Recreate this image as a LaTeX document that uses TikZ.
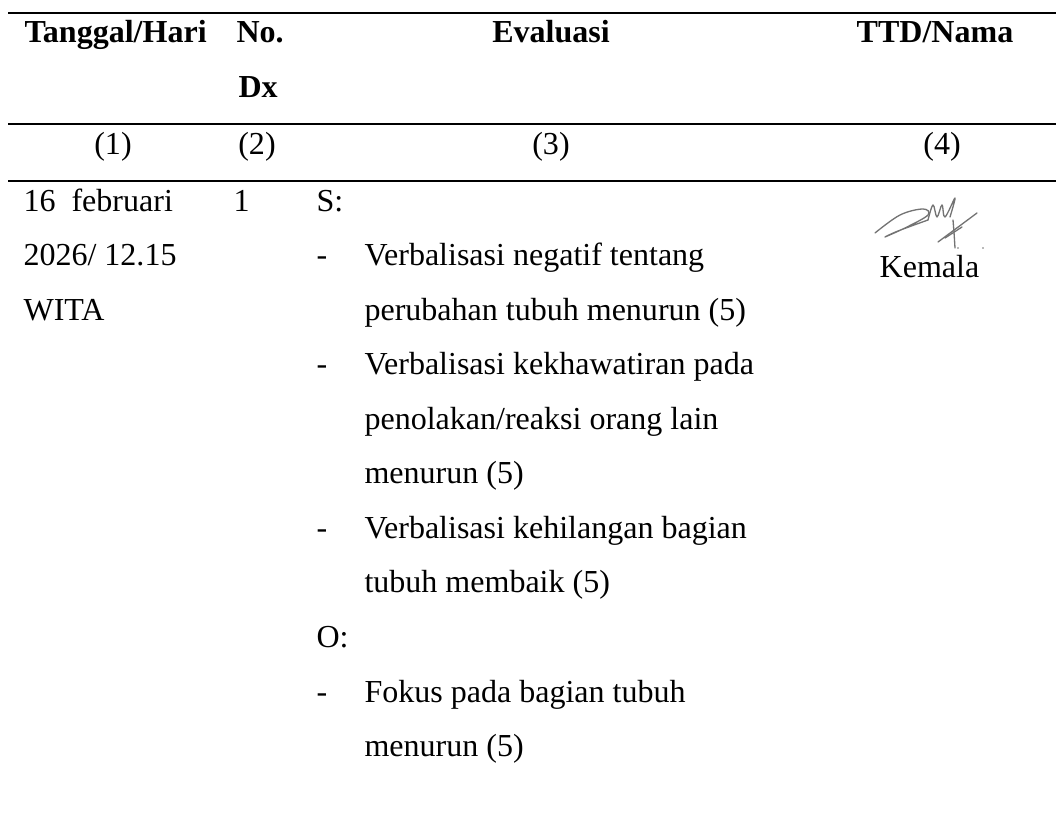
\documentclass[tikz,border=0pt]{standalone}
\usepackage{fontspec}
\setmainfont{Liberation Serif}

\begin{document}
\begin{tikzpicture}[x=0.381pt, y=-0.381pt,
	txt/.style = {anchor=base west, inner sep=0pt, font=\fontsize{12.2}{14}\selectfont},
	hd/.style  = {txt, font=\fontsize{12.2}{14}\selectfont\bfseries},
	num/.style = {txt, anchor=base},
	rule/.style = {draw=black, line width=0.76pt},
	sig/.style = {draw=black!55, line width=0.5pt, line cap=round, line join=round}]
	\useasboundingbox (0,0) rectangle (1056,837);
	% rules
	\draw[rule] (8, 12.7) -- (1056, 12.7);
	\draw[rule] (8, 124)  -- (1056, 124);
	\draw[rule] (8, 181)  -- (1056, 181);
	% header
	\node (hdTgl)  at (24, 43)   [hd]	{Tanggal/Hari};
	\node (hdNo)   at (236, 43)  [hd]	{No.};
	\node (hdDx)   at (238, 98)  [hd]	{Dx};
	\node (hdEval) at (551, 43)  [hd, anchor=base]	{Evaluasi};
	\node (hdTtd)  at (935, 43)  [hd, anchor=base]	{TTD/Nama};
	\node (n1) at (113, 155) [num]	{(1)};
	\node (n2) at (257, 155) [num]	{(2)};
	\node (n3) at (551, 155) [num]	{(3)};
	\node (n4) at (942, 155) [num]	{(4)};
	% tanggal, no. dx
	\node (tgl1) at (23, 211.5)  [txt]	{16\ \ februari};
	\node (tgl2) at (23, 266)    [txt]	{2026/ 12.15};
	\node (tgl3) at (23, 320.5)  [txt]	{WITA};
	\node (dx1)  at (233, 211.5) [txt]	{1};
	% evaluasi
	\node (sLbl) at (316, 211.5) [txt]	{S:};
	\node (d1)   at (316, 266)   [txt]	{-};
	\node (e1a)  at (364, 266)   [txt]	{Verbalisasi negatif tentang};
	\node (e1b)  at (364, 320.5) [txt]	{perubahan tubuh menurun (5)};
	\node (d2)   at (316, 375)   [txt]	{-};
	\node (e2a)  at (364, 375)   [txt]	{Verbalisasi kekhawatiran pada};
	\node (e2b)  at (364, 429.5) [txt]	{penolakan/reaksi orang lain};
	\node (e2c)  at (364, 484)   [txt]	{menurun (5)};
	\node (d3)   at (316, 538.5) [txt]	{-};
	\node (e3a)  at (364, 538.5) [txt]	{Verbalisasi kehilangan bagian};
	\node (e3b)  at (364, 593)   [txt]	{tubuh membaik (5)};
	\node (oLbl) at (316, 647.5) [txt]	{O:};
	\node (d4)   at (316, 702)   [txt]	{-};
	\node (e4a)  at (364, 702)   [txt]	{Fokus pada bagian tubuh};
	\node (e4b)  at (364, 756.5) [txt]	{menurun (5)};
	% ttd
	\node (nama) at (929.5, 278) [num]	{Kemala};
	\draw[sig] plot[smooth, tension=0.6] coordinates {(875,233) (900,215) (923,209) (928,215) (907,227) (885,237) (898,231) (928,220)};
	\draw[sig] plot[smooth, tension=0.6] coordinates {(928,220) (933,205) (937,217) (942,205) (945,217) (955,198) (950,217)};
	\draw[sig] (938,242) -- (977,213);
	\draw[sig] (945,238) -- (962,227);
	\draw[sig] (953,220) .. controls (954,232) .. (955,248);
	\fill[black!55] (958,248) circle (0.9) (983,248) circle (0.9);
\end{tikzpicture}
\end{document}
